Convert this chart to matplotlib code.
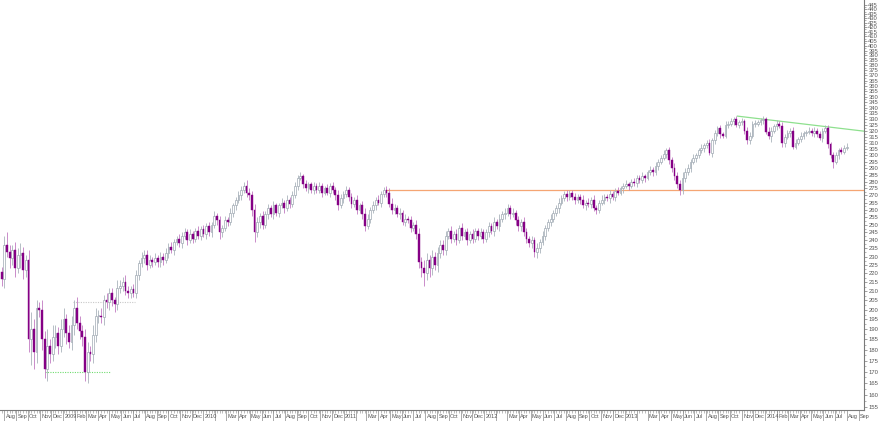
import numpy as np
import pandas as pd
import matplotlib
matplotlib.use('Agg')
import matplotlib.pyplot as plt
from matplotlib.ticker import FixedLocator, NullFormatter
from matplotlib.transforms import blended_transform_factory

plt.rcParams['font.family'] = ['Liberation Sans', 'DejaVu Sans']

# weekly candles, first week ending 2008-07-25
first_date = '2008-07-25'
first_open = 221

close = [
    217, 237, 233, 229, 234, 223, 231, 232, 222, 228,
    185, 190, 179, 201, 200, 185, 171, 182, 178, 186,
    188, 182, 190, 195, 188, 184, 192, 201, 193, 189,
    186, 170, 179, 178, 187, 197, 197, 196, 205, 204,
    209, 205, 203, 212, 213, 215, 210, 209, 211, 209,
    219, 226, 229, 231, 225, 228, 227, 229, 227, 230,
    228, 232, 236, 234, 239, 241, 238, 243, 245, 240,
    244, 241, 246, 243, 247, 244, 249, 245, 250, 256,
    253, 245, 248, 253, 252, 258, 263, 267, 270, 274,
    277, 272, 270, 260, 245, 252, 256, 250, 257, 261,
    257, 263, 258, 263, 265, 261, 267, 264, 270, 277,
    283, 284, 278, 275, 278, 274, 277, 274, 277, 272,
    275, 272, 277, 274, 270, 263, 268, 271, 274, 269,
    264, 267, 260, 263, 257, 249, 254, 260, 263, 267,
    265, 271, 274, 272, 264, 260, 261, 257, 258, 252,
    254, 253, 248, 250, 244, 227, 223, 220, 228, 223,
    230, 225, 232, 237, 234, 243, 246, 241, 244, 240,
    248, 243, 245, 240, 244, 241, 246, 243, 245, 241,
    245, 249, 246, 252, 249, 254, 257, 258, 261, 257,
    258, 253, 249, 252, 245, 241, 238, 240, 233, 235,
    239, 243, 248, 252, 254, 258, 261, 265, 268, 271,
    269, 272, 269, 267, 269, 267, 263, 265, 264, 267,
    261, 260, 265, 267, 269, 268, 271, 269, 273, 272,
    275, 277, 278, 277, 280, 279, 283, 281, 284, 283,
    287, 289, 287, 292, 295, 298, 301, 304, 296, 290,
    284, 278, 274, 283, 287, 290, 295, 298, 300, 304,
    306, 308, 310, 302, 312, 318, 322, 317, 316, 325,
    326, 328, 330, 325, 327, 328, 320, 312, 316, 326,
    326, 327, 329, 330, 319, 316, 320, 324, 326, 324,
    310, 315, 318, 320, 307, 310, 313, 316, 318, 319,
    320, 318, 320, 317, 314, 320, 322, 309, 300, 295,
    300, 304, 303, 306, 307,
]

# shadow lengths above / below the body, index points
wick_hi = [
    3, 6, 8, 4, 3, 5, 4, 6, 4, 3, 6, 9, 5, 4, 3,
    5, 4, 8, 3, 6, 4, 3, 5, 6, 3, 4, 5, 4, 6, 4,
    3, 4, 5, 3, 5, 4, 3, 4, 3, 4, 3, 3, 2, 4, 3,
    3, 4, 3, 2, 3, 3, 2, 4, 3, 3, 3, 2, 3, 2, 3,
    2, 3, 2, 3, 2, 2, 3, 2, 3, 2, 3, 2, 2, 3, 2,
    3, 2, 3, 2, 3, 2, 3, 2, 3, 2, 3, 2, 2, 3, 3,
    3, 4, 3, 3, 4, 3, 2, 3, 2, 3, 2, 3, 2, 2, 3,
    2, 3, 2, 3, 3, 2, 3, 2, 3, 2, 2, 3, 2, 3, 2,
    2, 3, 2, 3, 2, 4, 3, 2, 3, 2, 3, 2, 3, 2, 3,
    4, 3, 2, 3, 2, 3, 2, 2, 3, 3, 4, 3, 2, 3, 2,
    3, 2, 3, 2, 3, 4, 3, 5, 4, 3, 4, 3, 4, 3, 3,
    3, 2, 3, 2, 3, 2, 3, 2, 3, 2, 3, 2, 2, 3, 2,
    2, 3, 2, 3, 2, 3, 2, 3, 3, 2, 3, 2, 3, 2, 3,
    3, 2, 3, 2, 3, 2, 3, 2, 2, 3, 2, 2, 3, 2, 2,
    3, 2, 2, 3, 2, 2, 3, 2, 3, 2, 3, 2, 2, 3, 2,
    2, 3, 2, 2, 3, 2, 2, 3, 2, 2, 3, 2, 2, 3, 2,
    2, 3, 2, 3, 2, 2, 3, 2, 3, 3, 4, 3, 3, 4, 3,
    3, 2, 3, 2, 2, 3, 2, 2, 3, 2, 3, 2, 3, 2, 3,
    2, 3, 2, 3, 2, 3, 2, 3, 3, 2, 3, 2, 2, 3, 2,
    4, 3, 2, 3, 2, 3, 2, 3, 2, 3, 3, 2, 3, 2, 2,
    3, 2, 3, 2, 3, 2, 3, 3, 2, 3, 3, 2, 3, 2, 3,
]
wick_lo = [
    4, 5, 3, 6, 4, 5, 3, 8, 5, 4, 6, 12, 8, 5, 4,
    5, 4, 5, 4, 3, 5, 4, 3, 4, 5, 3, 4, 5, 3, 4,
    4, 4, 5, 3, 4, 3, 4, 3, 4, 3, 4, 3, 4, 3, 3,
    3, 2, 3, 3, 2, 3, 3, 2, 3, 3, 2, 3, 2, 3, 3,
    3, 2, 3, 2, 3, 2, 2, 3, 2, 3, 2, 3, 2, 2, 3,
    2, 3, 2, 3, 2, 3, 4, 3, 2, 3, 2, 3, 3, 2, 3,
    2, 3, 3, 4, 6, 3, 4, 3, 2, 3, 2, 3, 2, 3, 2,
    3, 2, 3, 2, 2, 3, 2, 3, 2, 3, 2, 3, 2, 2, 3,
    2, 2, 3, 2, 3, 3, 2, 3, 2, 3, 3, 2, 3, 2, 3,
    3, 2, 3, 2, 3, 2, 3, 2, 3, 2, 3, 3, 2, 3, 2,
    3, 2, 3, 2, 3, 4, 5, 7, 4, 5, 4, 3, 4, 3, 3,
    3, 2, 3, 2, 3, 2, 3, 2, 3, 2, 3, 2, 3, 2, 3,
    2, 3, 2, 3, 2, 3, 2, 3, 2, 3, 2, 3, 3, 3, 2,
    3, 2, 3, 3, 4, 3, 2, 3, 2, 3, 2, 2, 3, 2, 2,
    3, 2, 2, 3, 2, 3, 2, 3, 2, 3, 2, 3, 2, 2, 3,
    2, 3, 2, 3, 2, 2, 3, 2, 3, 2, 2, 3, 2, 2, 3,
    2, 2, 3, 2, 3, 2, 2, 3, 3, 3, 3, 3, 4, 3, 3,
    2, 3, 2, 3, 2, 2, 3, 2, 2, 3, 3, 2, 3, 2, 2,
    3, 2, 3, 2, 3, 2, 3, 3, 3, 2, 3, 2, 2, 3, 2,
    3, 5, 2, 3, 2, 3, 3, 2, 3, 2, 2, 2, 2, 3, 2,
    2, 2, 3, 2, 2, 3, 2, 3, 2, 5, 2, 3, 2, 2, 2,
]

# drawn lines: (week index start, value start, week index end, value end)
resistance = [143.3, 274, 320.5, 274]
trend_top = [273.4, 332.5, 320.5, 319.6]
low_dotted = [16.2, 170, 40.3, 170]
mid_dotted = [26.6, 204, 49.6, 204]

month_names = ['Jan', 'Feb', 'Mar', 'Apr', 'May', 'Jun',
               'Jul', 'Aug', 'Sep', 'Oct', 'Nov', 'Dec']
skip_feb_years = [2010, 2011, 2012, 2013]

close = np.array(close, dtype=float)
opens = np.r_[first_open, close[:-1]]
highs = np.maximum(opens, close) + np.array(wick_hi)
lows = np.minimum(opens, close) - np.array(wick_lo)
n = len(close)
x = np.arange(n)
up = close >= opens

fig = plt.figure(figsize=(8.8, 4.21), dpi=100)
ax = fig.add_axes([0.0, 0.026, 0.982, 0.974])

ax.vlines(x[up], lows[up], highs[up], color='#aab3bb', lw=0.6, zorder=2)
ax.vlines(x[~up], lows[~up], highs[~up], color='#c27ac2', lw=0.6, zorder=2)
h_up = np.maximum(close[up] - opens[up], 0.3)
ax.bar(x[up], h_up, bottom=opens[up], width=0.66, color='white',
       edgecolor='#9ea8b2', lw=0.5, zorder=3)
h_dn = np.maximum(opens[~up] - close[~up], 0.3)
ax.bar(x[~up], h_dn, bottom=close[~up], width=0.66, color='#850085',
       edgecolor='#850085', lw=0.3, zorder=3)

ax.plot(resistance[0::2], resistance[1::2], color='#f5a573', lw=0.9, zorder=1)
ax.plot(trend_top[0::2], trend_top[1::2], color='#8ee08e', lw=0.9, zorder=1)
ax.plot(low_dotted[0::2], low_dotted[1::2], color='#6fdc6f', lw=0.8,
        ls=(0, (1, 1.2)), zorder=1)
ax.plot(mid_dotted[0::2], mid_dotted[1::2], color='#c8c8c8', lw=0.8,
        ls=(0, (1, 1.2)), zorder=1)

ax.set_yscale('log')
ax.set_ylim(153.7, 451)
ax.set_xlim(-0.6, 320.5)

for s in ['top', 'left']:
    ax.spines[s].set_visible(False)
for s in ['right', 'bottom']:
    ax.spines[s].set_color('#7a7a7a')
    ax.spines[s].set_linewidth(0.8)

# right price axis
yt = list(range(155, 450, 5))
ax.yaxis.tick_right()
ax.yaxis.set_major_locator(FixedLocator(yt))
ax.yaxis.set_minor_locator(FixedLocator([v + 2.5 for v in yt[:-1]]))
ax.yaxis.set_minor_formatter(NullFormatter())
ax.set_yticklabels([str(v) for v in yt])
ax.tick_params(axis='y', which='major', length=2, width=0.5, color='#7a7a7a',
               labelsize=4.2, labelcolor='#555555', pad=1)
ax.tick_params(axis='y', which='minor', length=1.2, width=0.4, color='#7a7a7a')

# month axis
start = pd.Timestamp(first_date)
months = pd.date_range('2008-08-01', '2014-09-01', freq='MS')
mpos = [(m - start).days / 7.0 for m in months]
ax.xaxis.set_major_locator(FixedLocator(mpos))
ax.xaxis.set_minor_locator(FixedLocator(list(x)))
ax.xaxis.set_major_formatter(NullFormatter())
ax.tick_params(axis='x', which='major', length=10, width=0.5, color='#8a8a8a')
ax.tick_params(axis='x', which='minor', length=2, width=0.4, color='#8a8a8a')

tr = blended_transform_factory(ax.transData, ax.transAxes)
for m, p in zip(months, mpos):
    if m.month == 1:
        lab = str(m.year)
    elif m.month == 2 and m.year in skip_feb_years:
        continue
    else:
        lab = month_names[m.month - 1]
    ax.text(p + 0.5, -0.016, lab, transform=tr, fontsize=4.0,
            color='#555555', ha='left', va='center', clip_on=False)

fig.savefig('out.png', dpi=100, facecolor='white')
